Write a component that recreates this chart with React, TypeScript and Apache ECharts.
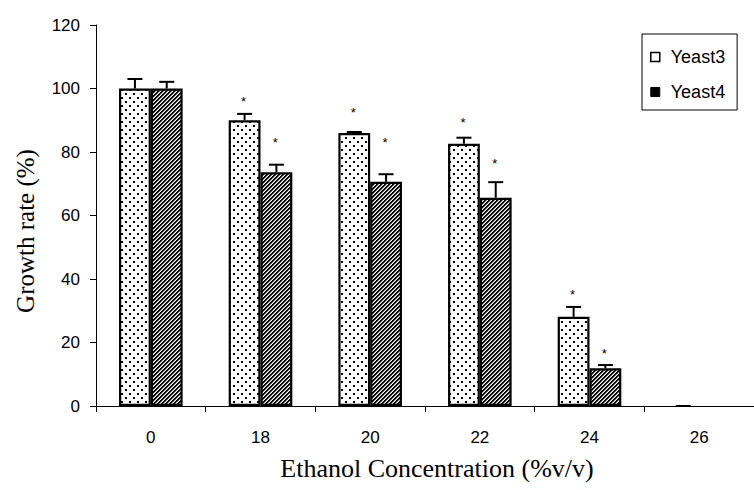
import React, { useEffect, useRef } from "react";
import * as echarts from "echarts";

const categories = ["0", "18", "20", "22", "24", "26"];
const yeast3 = [100, 90, 86, 82.6, 28.1, 0];
const yeast4 = [100, 73.6, 70.6, 65.6, 11.9, 0];
const yeast3ErrTop = [103, 92, 86.3, 84.5, 31.2, 0];
const yeast4ErrTop = [102.1, 76, 73, 70.5, 12.9, null];
const yeast3Star = [null, 96.7, 93.5, 90.1, 36.2, null];
const yeast4Star = [null, 83.8, 83.8, 77.2, 17.5, null];
const yTicks = { min: 0, max: 120, interval: 20 };

const GAP = 0.42;

function makePattern(kind: "dots" | "stripes"): string {
  const size = kind === "dots" ? 8 : 4;
  const c = document.createElement("canvas");
  c.width = size;
  c.height = size;
  const ctx = c.getContext("2d")!;
  const img = ctx.createImageData(size, size);
  for (let y = 0; y < size; y++) {
    for (let x = 0; x < size; x++) {
      let v = 255;
      if (kind === "dots") {
        const black =
          ((x === 1 || x === 2) && (y === 1 || y === 2)) ||
          ((x === 5 || x === 6) && (y === 5 || y === 6));
        v = black ? 0 : 255;
      } else {
        const m = (x + y) % 4;
        v = m < 2 ? 0 : m === 2 ? 150 : 255;
      }
      const i = (y * size + x) * 4;
      img.data[i] = v;
      img.data[i + 1] = v;
      img.data[i + 2] = v;
      img.data[i + 3] = 255;
    }
  }
  ctx.putImageData(img, 0, 0);
  return c.toDataURL();
}

const barData = (arr: number[]) =>
  arr.map((v) => (v === 0 ? { value: v, itemStyle: { borderWidth: 0, opacity: 0 } } : v));

export default function App() {
  const ref = useRef<HTMLDivElement>(null);
  useEffect(() => {
    if (!ref.current) return;
    const chart = echarts.init(ref.current, null, { renderer: "svg" });
    const dots = makePattern("dots");
    const stripes = makePattern("stripes");

    const errData: any[] = [];
    categories.forEach((_, i) => {
      errData.push([i, yeast3[i], yeast3ErrTop[i], yeast3Star[i], 0]);
      errData.push([i, yeast4[i], yeast4ErrTop[i], yeast4Star[i], 1]);
    });

    const option: any = {
      animation: false,
      backgroundColor: "#fff",
      grid: { left: 96, right: -8, top: 25, bottom: 84, containLabel: false },
      legend: {
        left: 642,
        top: 34,
        orient: "vertical",
        backgroundColor: "#fff",
        borderColor: "#000",
        borderWidth: 1,
        borderRadius: 0,
        padding: [14, 12, 9, 8],
        itemGap: 17,
        itemWidth: 9,
        itemHeight: 9,
        icon: "rect",
        textStyle: {
          fontFamily: "Liberation Sans, Arial, sans-serif",
          fontSize: 18,
          color: "#000",
          padding: [0, 0, 0, 6],
        },
        data: [
          { name: "Yeast3", itemStyle: { color: "#fff", borderColor: "#000", borderWidth: 1.5, opacity: 1 } },
          { name: "Yeast4", itemStyle: { color: "#000", borderColor: "#000", borderWidth: 1, opacity: 1 } },
        ],
      },
      xAxis: {
        type: "category",
        data: categories,
        boundaryGap: true,
        axisLine: { lineStyle: { color: "#000", width: 1 } },
        axisTick: { show: true, length: 6, inside: false, lineStyle: { color: "#000" } },
        axisLabel: {
          fontFamily: "Liberation Sans, Arial, sans-serif",
          fontSize: 17,
          color: "#000",
          margin: 23,
        },
        splitLine: { show: false },
      },
      yAxis: {
        type: "value",
        min: yTicks.min,
        max: yTicks.max,
        interval: yTicks.interval,
        axisLine: { show: true, lineStyle: { color: "#000", width: 1 } },
        axisTick: { show: true, length: 6, inside: false, lineStyle: { color: "#000" } },
        axisLabel: {
          fontFamily: "Liberation Sans, Arial, sans-serif",
          fontSize: 17,
          color: "#000",
          margin: 16,
        },
        splitLine: { show: false },
      },
      graphic: [
        {
          type: "text",
          x: 437,
          y: 468,
          style: {
            text: "Ethanol Concentration (%v/v)",
            font: "26px 'Liberation Serif', 'Times New Roman', serif",
            fill: "#000",
            textAlign: "center",
            textVerticalAlign: "middle",
          },
        },
        {
          type: "text",
          x: 25,
          y: 231,
          rotation: Math.PI / 2,
          style: {
            text: "Growth rate (%)",
            font: "25px 'Liberation Serif', 'Times New Roman', serif",
            fill: "#000",
            textAlign: "center",
            textVerticalAlign: "middle",
          },
        },
      ],
      series: [
        {
          name: "Yeast3",
          type: "bar",
          data: barData(yeast3),
          barGap: "0%",
          barCategoryGap: GAP * 100 + "%",
          itemStyle: {
            color: { image: dots, repeat: "repeat" },
            borderColor: "#000",
            borderWidth: 2.2,
          },
        },
        {
          name: "Yeast4",
          type: "bar",
          data: barData(yeast4),
          barGap: "0%",
          barCategoryGap: GAP * 100 + "%",
          itemStyle: {
            color: { image: stripes, repeat: "repeat" },
            borderColor: "#000",
            borderWidth: 2.2,
          },
        },
        {
          type: "custom",
          name: "err",
          z: 10,
          silent: true,
          data: errData,
          renderItem: (params: any, api: any) => {
            const idx = api.value(0);
            const val = api.value(1);
            const top = api.value(2);
            const star = api.value(3);
            const s = api.value(4);
            const band = api.size([1, 0])[0];
            const barW = (band * (1 - GAP)) / 2;
            const base = api.coord([idx, val]);
            const cx = base[0] + (s === 0 ? -barW / 2 : barW / 2);
            const children: any[] = [];
            if (top !== null && top !== undefined && !isNaN(top)) {
              const pt = api.coord([idx, top]);
              const capHalf = 7.5;
              if (top > val) {
                children.push({
                  type: "line",
                  shape: { x1: cx, y1: base[1], x2: cx, y2: pt[1] },
                  style: { stroke: "#000", lineWidth: 2 },
                });
              }
              children.push({
                type: "line",
                shape: { x1: cx - capHalf, y1: pt[1], x2: cx + capHalf, y2: pt[1] },
                style: { stroke: "#000", lineWidth: 2 },
              });
            }
            if (star !== null && star !== undefined && !isNaN(star)) {
              const sp = api.coord([idx, star]);
              children.push({
                type: "text",
                x: cx - 1,
                y: sp[1] + 3,
                style: {
                  text: "*",
                  font: "13px 'Liberation Sans', Arial, sans-serif",
                  fill: "#000",
                  textAlign: "center",
                  textVerticalAlign: "middle",
                },
              });
            }
            return { type: "group", children };
          },
        },
      ],
    };
    chart.setOption(option);
    return () => chart.dispose();
  }, []);
  return (
    <div
      ref={ref}
      style={{ position: "fixed", left: 0, top: 0, width: 754, height: 490, background: "#fff" }}
    />
  );
}
